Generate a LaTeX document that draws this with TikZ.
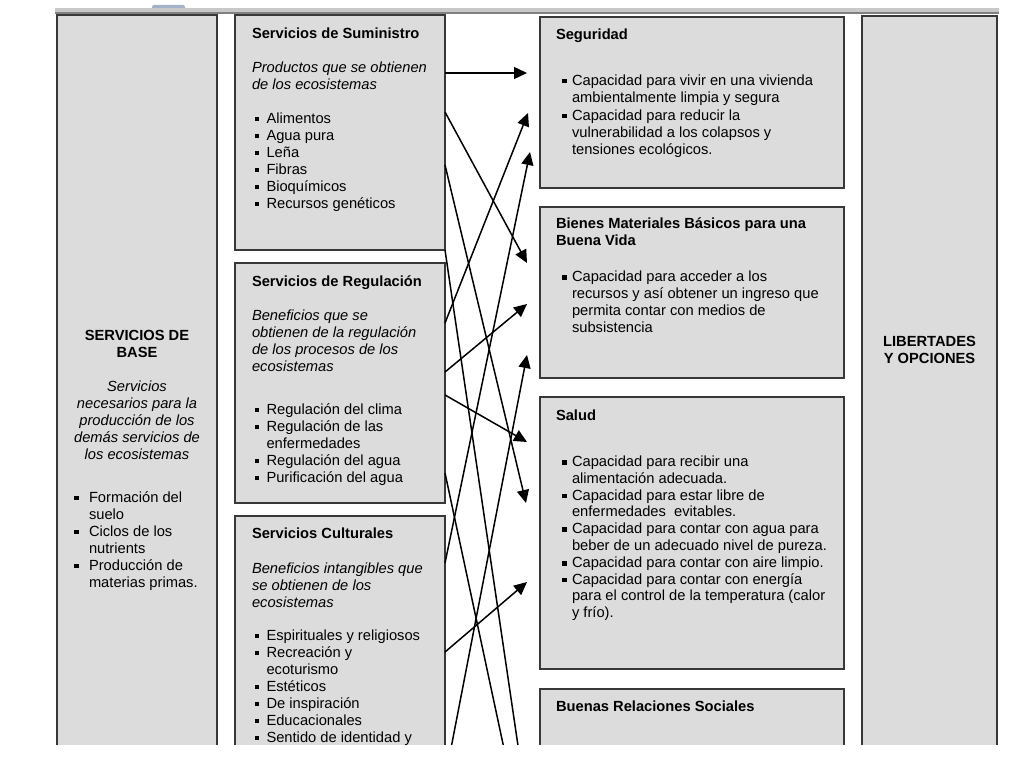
\documentclass[tikz,border=0pt]{standalone}
\usepackage{fontspec}
\setmainfont{Liberation Sans}
\usetikzlibrary{arrows.meta}
\definecolor{boxfill}{HTML}{DCDCDC}
\definecolor{boxline}{HTML}{383838}
\definecolor{barlight}{HTML}{C8C8C8}
\definecolor{bardark}{HTML}{808080}
\definecolor{blob}{HTML}{A3B4C8}
\newcommand{\fsz}{\fontsize{14.7}{17}\selectfont}
\newcommand{\fszs}{\fontsize{14.7}{16.8}\selectfont}
\newcommand{\st}{\rule{0pt}{12pt}}
\newcommand{\bq}[1]{\makebox[#1][l]{\rule[1.8pt]{4.6pt}{4.6pt}}}
\newcommand{\bc}[1]{\hspace*{#1}}
\begin{document}
\begin{tikzpicture}[x=1pt,y=-1pt,
  panel/.style={draw=boxline, fill=boxfill, line width=1.2pt, anchor=north west, inner sep=0pt, outer sep=0pt},
  txt/.style={anchor=north west, inner sep=0pt, outer sep=0pt, align=left, font=\fsz},
  ctxt/.style={anchor=north, inner sep=0pt, outer sep=0pt, align=center, font=\fsz},
  link/.style={line width=1.5pt, -{Triangle[length=13pt,width=12pt]}},
  plainlink/.style={line width=1.5pt}]
\useasboundingbox (0,0) rectangle (1024,768);
\fill[white] (0,0) rectangle (1024,768);
\begin{scope}
\clip (0,0) rectangle (1024,744);
% top bar
\fill[blob, rounded corners=2pt] (152,5) rectangle (185,11);
\fill[barlight] (55,8) rectangle (999,12);
\fill[bardark] (55,12) rectangle (999,14);
% panels
\node[panel, minimum width=160pt, minimum height=745pt] (base) at (57,15) {};
\node[panel, minimum width=210pt, minimum height=235pt] (sum) at (235,15) {};
\node[panel, minimum width=210pt, minimum height=240pt] (reg) at (235,263) {};
\node[panel, minimum width=210pt, minimum height=250pt] (cul) at (235,516) {};
\node[panel, minimum width=304pt, minimum height=171pt] (seg) at (540,17) {};
\node[panel, minimum width=304pt, minimum height=171pt] (bie) at (540,207) {};
\node[panel, minimum width=304pt, minimum height=272pt] (sal) at (540,397) {};
\node[panel, minimum width=304pt, minimum height=80pt] (bue) at (540,689) {};
\node[panel, minimum width=135pt, minimum height=745pt] (lib) at (862,16) {};
% base texts
\node[ctxt, font=\fsz\bfseries] (basetitle) at (137,328) {\st SERVICIOS DE\\BASE};
\node[ctxt, font=\fsz\itshape] (basedesc) at (137,379) {\st Servicios\\necesarios para la\\producción de los\\demás servicios de\\los ecosistemas};
\node[txt] (baselist) at (74,490) {\st\bq{15pt}Formación del\\\bc{15pt}suelo\\\bq{15pt}Ciclos de los\\\bc{15pt}nutrients\\\bq{15pt}Producción de\\\bc{15pt}materias primas.};
% suministro
\node[txt, font=\fsz\bfseries] (sumtitle) at (252,26) {\st Servicios de Suministro};
\node[txt, font=\fsz\itshape] (sumdesc) at (252,60.5) {\st Productos que se obtienen\\de los ecosistemas};
\node[txt] (sumlist) at (254.5,111) {\st\bq{12pt}Alimentos\\\bq{12pt}Agua pura\\\bq{12pt}Leña\\\bq{12pt}Fibras\\\bq{12pt}Bioquímicos\\\bq{12pt}Recursos genéticos};
% regulacion
\node[txt, font=\fsz\bfseries] (regtitle) at (252,274) {\st Servicios de Regulación};
\node[txt, font=\fsz\itshape] (regdesc) at (252,308) {\st Beneficios que se\\obtienen de la regulación\\de los procesos de los\\ecosistemas};
\node[txt] (reglist) at (254.5,402) {\st\bq{12pt}Regulación del clima\\\bq{12pt}Regulación de las\\\bc{12pt}enfermedades\\\bq{12pt}Regulación del agua\\\bq{12pt}Purificación del agua};
% culturales
\node[txt, font=\fsz\bfseries] (cultitle) at (252,526) {\st Servicios Culturales};
\node[txt, font=\fsz\itshape] (culdesc) at (252,561) {\st Beneficios intangibles que\\se obtienen de los\\ecosistemas};
\node[txt] (cullist) at (254.5,628) {\st\bq{12pt}Espirituales y religiosos\\\bq{12pt}Recreación y\\\bc{12pt}ecoturismo\\\bq{12pt}Estéticos\\\bq{12pt}De inspiración\\\bq{12pt}Educacionales\\\bq{12pt}Sentido de identidad y};
% seguridad
\node[txt, font=\fsz\bfseries] (segtitle) at (556,28) {\st Seguridad};
\node[txt] (seglist) at (562,73) {\st\bq{10pt}Capacidad para vivir en una vivienda\\\bc{10pt}ambientalmente limpia y segura\\[1pt]\bq{10pt}Capacidad para reducir la\\\bc{10pt}vulnerabilidad a los colapsos y\\\bc{10pt}tensiones ecológicos.};
% bienes
\node[txt, font=\fsz\bfseries] (bietitle) at (556,216) {\st Bienes Materiales Básicos para una\\Buena Vida};
\node[txt] (bielist) at (562,269.5) {\st\bq{10pt}Capacidad para acceder a los\\\bc{10pt}recursos y así obtener un ingreso que\\\bc{10pt}permita contar con medios de\\\bc{10pt}subsistencia};
% salud
\node[txt, font=\fsz\bfseries] (saltitle) at (556,408) {\st Salud};
\node[txt, font=\fszs] (sallist) at (562,454.5) {\st\bq{10pt}Capacidad para recibir una\\\bc{10pt}alimentación adecuada.\\\bq{10pt}Capacidad para estar libre de\\\bc{10pt}enfermedades\ \ evitables.\\\bq{10pt}Capacidad para contar con agua para\\\bc{10pt}beber de un adecuado nivel de pureza.\\\bq{10pt}Capacidad para contar con aire limpio.\\\bq{10pt}Capacidad para contar con energía\\\bc{10pt}para el control de la temperatura (calor\\\bc{10pt}y frío).};
% buenas relaciones
\node[txt, font=\fsz\bfseries] (buetitle) at (556,699) {\st Buenas Relaciones Sociales};
% libertades
\node[ctxt, font=\fsz\bfseries] (libtitle) at (929.5,334) {\st LIBERTADES\\Y OPCIONES};
% connector end points
\coordinate (s1) at (445,73);   \coordinate (e1) at (527,73);
\coordinate (s2) at (445,112);  \coordinate (e2) at (527,263);
\coordinate (s3) at (445,165);  \coordinate (e3) at (526,503);
\coordinate (s4) at (445,250);  \coordinate (e4) at (526,800);
\coordinate (s5) at (445,323);  \coordinate (e5) at (528,113);
\coordinate (s6) at (445,372);  \coordinate (e6) at (527,304);
\coordinate (s7) at (445,395);  \coordinate (e7) at (527,442);
\coordinate (s8) at (445,473);  \coordinate (e8) at (515,800);
\coordinate (s9) at (445,563);  \coordinate (e9) at (530,152);
\coordinate (s10) at (445,652); \coordinate (e10) at (527,582);
\coordinate (s11) at (441,800); \coordinate (e11) at (527,355);
\draw[link] (s1) -- (e1);
\draw[link] (s2) -- (e2);
\draw[link] (s3) -- (e3);
\draw[plainlink] (s4) -- (e4);
\draw[link] (s5) -- (e5);
\draw[link] (s6) -- (e6);
\draw[link] (s7) -- (e7);
\draw[plainlink] (s8) -- (e8);
\draw[link] (s9) -- (e9);
\draw[link] (s10) -- (e10);
\draw[link] (s11) -- (e11);
\end{scope}
\end{tikzpicture}
\end{document}
